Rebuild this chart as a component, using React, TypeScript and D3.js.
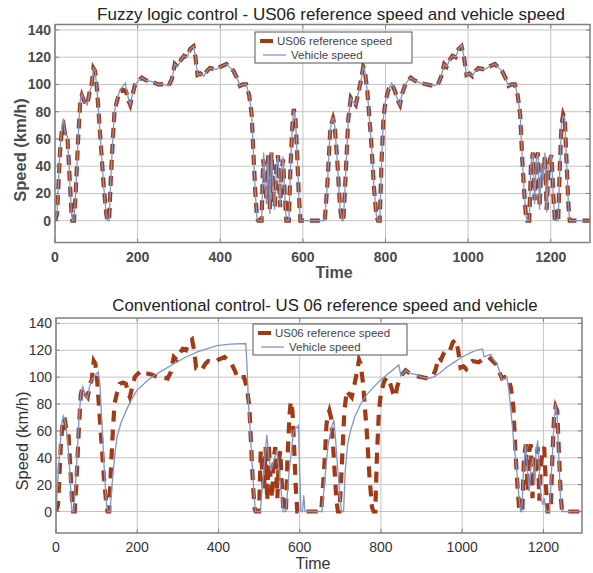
import React from "react";
import * as d3 from "d3";

const xTicks = [0, 200, 400, 600, 800, 1000, 1200];
const yTicks = [0, 20, 40, 60, 80, 100, 120, 140];
const xDomain = [0, 1295];
const yDomain = [-16, 144];

const titles = [
  "Fuzzy logic control - US06 reference speed and vehicle speed",
  "Conventional control- US 06 reference speed and vehicle",
];
const legendLabels = ["US06 reference speed", "Vehicle speed"];

// US06 reference speed (time s, speed km/h)
const refTime = [0,5,12,17,21,25,30,34,40,42,46,50,56,61,65,70,78,84,88,93,97,102,110,118,124,127,131,135,140,144,150,157,165,172,178,182,187,194,200,210,220,235,250,262,275,283,290,297,305,312,320,327,335,340,345,352,360,368,375,390,400,415,425,432,440,448,455,463,470,476,481,485,489,492,500,504,508,512,516,520,524,528,532,536,540,545,548,552,556,560,566,570,575,578,582,586,590,594,653,660,666,670,673,677,683,690,694,698,703,710,716,720,728,735,742,746,750,756,765,772,778,782,786,790,795,800,808,815,822,830,835,840,848,855,861,870,885,900,915,927,935,942,948,955,962,970,977,984,990,996,1003,1010,1018,1025,1040,1050,1065,1075,1082,1090,1098,1105,1113,1120,1126,1131,1136,1140,1143,1148,1152,1157,1161,1165,1169,1173,1177,1181,1186,1190,1194,1198,1202,1206,1210,1218,1222,1226,1230,1234,1238,1243,1246,1295];
const refSpeed = [0,5,50,68,70,62,62,40,5,0,0,20,60,87,92,88,85,95,98,112,110,95,60,25,5,0,0,30,60,80,88,95,96,95,88,85,92,100,102,105,103,102,100,100,99,104,115,113,118,121,120,126,128,120,107,108,106,110,112,111,113,115,112,110,105,99,100,100,92,78,45,20,2,0,0,45,30,15,48,8,50,25,10,40,48,10,35,45,20,0,0,40,72,82,75,50,20,0,0,30,65,72,75,70,45,10,0,0,30,75,90,88,85,95,105,113,110,95,60,25,3,0,0,40,75,88,97,100,96,88,85,93,100,103,105,103,101,100,99,100,106,115,113,118,121,120,126,128,120,107,108,106,110,112,111,113,115,112,110,105,99,100,100,92,78,45,20,3,0,0,40,50,15,45,50,10,40,30,48,8,35,45,48,20,0,0,40,70,78,75,45,10,0,0];

// Fuzzy logic control vehicle speed
const fuzzyTime = [0,5,12,17,20,25,30,34,40,42,46,50,56,61,65,70,78,84,88,93,97,102,110,118,124,127,131,135,140,144,150,157,165,170,178,182,187,194,200,210,220,235,250,262,275,283,290,297,305,312,320,327,335,340,345,352,360,368,375,390,400,415,425,432,440,448,455,463,470,476,481,485,489,492,500,505,508,512,516,520,524,528,532,536,540,545,548,552,556,560,566,570,575,578,582,586,590,594,653,660,666,670,673,677,683,690,694,698,703,710,716,720,728,735,742,746,750,756,765,772,778,782,786,790,795,800,808,815,822,830,835,840,848,855,861,870,885,900,915,927,935,942,948,955,962,970,977,984,990,996,1003,1010,1018,1025,1040,1050,1065,1075,1082,1090,1098,1105,1113,1120,1126,1131,1136,1140,1143,1148,1152,1157,1161,1165,1169,1173,1177,1181,1186,1190,1194,1198,1202,1206,1210,1218,1222,1226,1230,1234,1238,1243,1246,1295];
const fuzzySpeed = [0,6,52,70,75,63,62,40,5,0,0,20,60,88,93,88,85,95,98,112,111,95,60,25,5,0,0,30,60,80,89,96,99,101,89,85,92,100,102,105,103,102,100,100,99,104,115,113,118,121,120,126,128,121,107,108,106,110,112,111,113,115,112,110,105,99,100,100,92,78,45,20,2,0,0,50,30,12,48,5,50,25,8,40,48,10,35,47,20,0,0,40,72,81,75,50,20,0,0,30,66,73,76,70,45,10,0,0,30,75,90,88,85,95,105,113,110,95,60,25,3,0,0,40,75,88,97,101,96,88,85,93,100,103,105,103,101,100,99,100,106,115,113,118,121,120,126,129,120,107,108,106,110,112,111,113,115,112,110,105,99,100,100,92,78,45,20,3,0,0,42,50,12,45,50,8,42,30,50,6,35,46,48,20,0,0,40,70,77,75,45,10,0,0];

// Conventional control vehicle speed
const convTime = [0,8,14,18,22,28,34,39,44,50,56,61,66,72,77,82,88,96,104,108,114,120,125,128,133,138,144,150,160,174,187,199,220,240,263,290,320,350,396,430,467,470,474,480,486,491,503,510,519,524,529,536,544,550,556,559,566,574,585,597,600,603,607,610,613,655,662,670,678,684,688,694,700,703,708,712,718,725,735,750,765,780,800,820,844,849,855,862,870,885,900,915,930,945,960,980,1000,1020,1035,1050,1054,1062,1070,1080,1086,1092,1098,1106,1110,1115,1120,1126,1133,1140,1144,1147,1150,1156,1161,1165,1170,1174,1178,1182,1186,1190,1194,1198,1202,1205,1208,1215,1220,1226,1230,1234,1238,1242,1246,1295];
const convSpeed = [0,40,65,71,68,55,30,0,0,30,65,88,93,87,84,92,98,101,104,95,60,25,3,0,0,20,40,55,66,76,84,90,96,101,105,110,115,119,123.5,124.5,125,110,80,50,20,0,0,25,57,40,30,38,45,28,10,0,0,30,60,64,30,0,0,12,0,0,25,50,62,68,55,30,8,0,0,30,50,60,70,80,87,92,98,103,109,101,103,105,103,102,100,99,100,103,107,111,115,118,120,121,115,116,117,112,110,104,98,99,100,90,75,55,35,10,0,0,25,50,30,15,35,40,20,45,53,30,12,5,10,3,0,0,30,65,80,70,40,10,0,0];

type Panel = {
  left: number; right: number; top: number; bottom: number;
  title: string; titleX: number; titleY: number; titleSize: number;
  bold: boolean; vt: number[]; vs: number[];
  legend: { x: number; y: number; w: number; h: number };
  ylabY: number; ylabX: number; timeX: number; timeY: number;
  dash: string; id: string; textFill: string;
};

const panels: Panel[] = [
  {
    left: 55, right: 590, top: 24.5, bottom: 242.5,
    title: titles[0], titleX: 331, titleY: 20, titleSize: 17, bold: true,
    vt: fuzzyTime, vs: fuzzySpeed,
    legend: { x: 255, y: 32, w: 157, h: 31 },
    ylabY: 150, ylabX: 26, timeX: 334, timeY: 278,
    dash: "10,6", id: "p1", textFill: "#4a4a4a",
  },
  {
    left: 56, right: 582, top: 318, bottom: 533,
    title: titles[1], titleX: 325, titleY: 311, titleSize: 16.8, bold: false,
    vt: convTime, vs: convSpeed,
    legend: { x: 253, y: 324, w: 154, h: 31 },
    ylabY: 441, ylabX: 28, timeX: 313, timeY: 569,
    dash: "11,8", id: "p2", textFill: "#333",
  },
];

const RED = "#a23a16";
const BLUE = "#7d97c9";
const FONT = "'Liberation Sans', Arial, sans-serif";

function PanelView({ p }: { p: Panel }) {
  const x = d3.scaleLinear().domain(xDomain).range([p.left, p.right]);
  const y = d3.scaleLinear().domain(yDomain).range([p.bottom, p.top]);
  const line = d3.line<[number, number]>().x((d) => x(d[0])).y((d) => y(d[1]));
  const refPts = refTime.map((t, i) => [t, refSpeed[i]] as [number, number]);
  const vPts = p.vt.map((t, i) => [t, p.vs[i]] as [number, number]);
  const fw = p.bold ? 700 : 400;
  const L = p.legend;
  return (
    <g>
      <defs>
        <clipPath id={p.id}>
          <rect x={p.left} y={p.top} width={p.right - p.left} height={p.bottom - p.top} />
        </clipPath>
      </defs>
      <rect x={p.left} y={p.top} width={p.right - p.left} height={p.bottom - p.top} fill="#fff" />
      {xTicks.map((t) => (
        <line key={"gx" + t} x1={x(t)} x2={x(t)} y1={p.top} y2={p.bottom} stroke="#c4c4c4" strokeWidth={1} />
      ))}
      {yTicks.map((t) => (
        <line key={"gy" + t} x1={p.left} x2={p.right} y1={y(t)} y2={y(t)} stroke="#c4c4c4" strokeWidth={1} />
      ))}
      <g clipPath={`url(#${p.id})`}>
        <path d={line(refPts) || ""} fill="none" stroke={RED} strokeWidth={4.2} strokeDasharray={p.dash} />
        <path d={line(vPts) || ""} fill="none" stroke={BLUE} strokeWidth={1.3} />
      </g>
      <rect x={p.left} y={p.top} width={p.right - p.left} height={p.bottom - p.top} fill="none" stroke="#808080" strokeWidth={1.5} />
      {xTicks.map((t) => (
        <g key={"tx" + t}>
          <line x1={x(t)} x2={x(t)} y1={p.bottom} y2={p.bottom - 4} stroke="#808080" />
          <line x1={x(t)} x2={x(t)} y1={p.top} y2={p.top + 4} stroke="#808080" />
          <text x={x(t)} y={p.bottom + 19} textAnchor="middle" fontSize={14} fontFamily={FONT} fill={p.textFill} fontWeight={fw}>{t}</text>
        </g>
      ))}
      {yTicks.map((t) => (
        <g key={"ty" + t}>
          <line x1={p.left} x2={p.left + 4} y1={y(t)} y2={y(t)} stroke="#808080" />
          <line x1={p.right} x2={p.right - 4} y1={y(t)} y2={y(t)} stroke="#808080" />
          <text x={p.left - 4} y={y(t) + 5} textAnchor="end" fontSize={14} fontFamily={FONT} fill={p.textFill} fontWeight={fw}>{t}</text>
        </g>
      ))}
      <text x={p.titleX} y={p.titleY} textAnchor="middle" fontSize={p.titleSize} fontFamily={FONT} fill="#222">{p.title}</text>
      <text x={p.timeX} y={p.timeY} textAnchor="middle" fontSize={16} fontFamily={FONT} fill={p.textFill} fontWeight={fw}>Time</text>
      <text transform={`translate(${p.ylabX},${p.ylabY}) rotate(-90)`} textAnchor="middle" fontSize={16.5} fontFamily={FONT} fill={p.textFill} fontWeight={fw}>Speed (km/h)</text>
      <rect x={L.x} y={L.y} width={L.w} height={L.h} fill="#fff" stroke="#555" strokeWidth={1} />
      <line x1={L.x + 5} x2={L.x + 18} y1={L.y + 9} y2={L.y + 9} stroke={RED} strokeWidth={4} />
      <text x={L.x + 22} y={L.y + 13} fontSize={11.5} fontFamily={FONT} fill="#444">{legendLabels[0]}</text>
      <line x1={L.x + 8} x2={L.x + 31} y1={L.y + 23} y2={L.y + 23} stroke={BLUE} strokeWidth={1.3} />
      <text x={L.x + 36} y={L.y + 27} fontSize={11.5} fontFamily={FONT} fill="#444">{legendLabels[1]}</text>
    </g>
  );
}

export default function App() {
  return (
    <svg width={593} height={573} style={{ position: "absolute", left: 0, top: 0, background: "#fff" }}>
      <rect x={0} y={0} width={593} height={573} fill="#fff" />
      {panels.map((p) => (
        <PanelView key={p.id} p={p} />
      ))}
    </svg>
  );
}
